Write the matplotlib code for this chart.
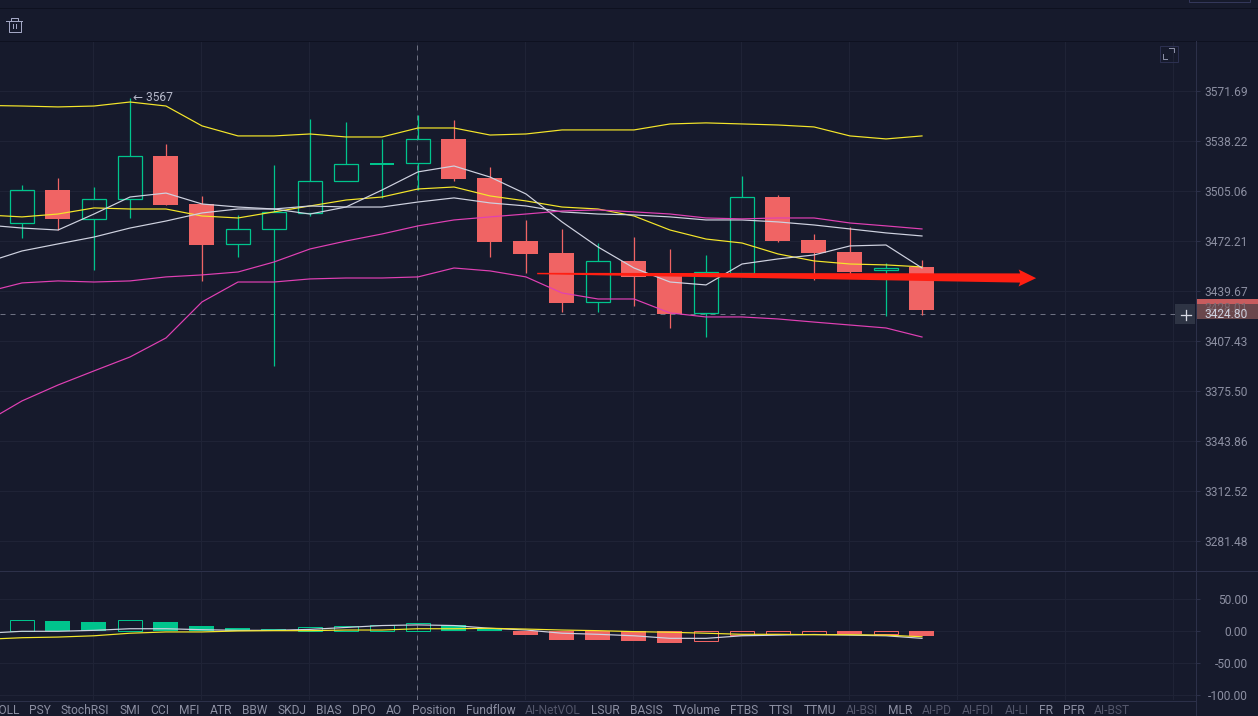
import numpy as np
import matplotlib
matplotlib.use("Agg")
import matplotlib.pyplot as plt
from matplotlib.patches import Rectangle, Polygon
from matplotlib.ticker import FixedLocator, FixedFormatter, NullLocator
from matplotlib.transforms import IdentityTransform

# ---------- data ----------
opens = [3484.0,3505.7,3486.7,3499.8,3528.3,3496.5,3470.3,3480.1,3490.6,3511.7,3522.6,3523.6,3539.6,3513.7,3472.2,3464.4,3432.6,3459.2,3450.7,3425.5,3451.4,3501.1,3472.9,3465.05,3453.3,3455.3]
closes = [3505.7,3486.7,3499.8,3528.3,3495.9,3469.6,3480.1,3491.3,3511.7,3522.9,3522.9,3539.6,3513.0,3471.6,3463.75,3431.9,3459.2,3448.8,3424.8,3452.0,3501.1,3472.2,3464.4,3452.0,3454.6,3427.4]
highs = [3509.0,3513.7,3507.7,3567.0,3536.2,3501.8,3489.3,3522.3,3553.0,3550.9,3539.6,3555.6,3552.3,3521.0,3486.0,3480.1,3470.9,3474.8,3467.0,3463.1,3515.0,3502.4,3476.8,3481.4,3457.9,3459.8]
lows = [3474.2,3479.4,3453.3,3487.3,3495.9,3446.2,3461.8,3391.5,3488.6,3511.7,3500.5,3505.7,3511.7,3461.8,3451.4,3426.1,3426.1,3430.0,3415.8,3410.0,3450.1,3471.6,3446.8,3450.7,3423.5,3424.2]

boll_upper = [3562.0,3561.6,3561.0,3561.6,3564.3,3561.6,3548.3,3541.6,3541.6,3542.9,3540.9,3540.9,3546.9,3546.9,3542.2,3542.9,3545.6,3545.6,3545.6,3549.6,3550.3,3549.6,3548.9,3547.6,3541.6,3539.6,3541.6]
ma_yellow = [3489.3,3488.0,3489.9,3493.9,3493.2,3493.2,3488.6,3487.3,3491.3,3495.2,3499.1,3501.1,3506.4,3507.7,3501.8,3498.5,3494.5,3493.2,3488.6,3479.4,3473.5,3470.9,3463.75,3459.2,3457.2,3456.6,3455.3]
ma_white_short = [3482.7,3480.7,3479.4,3489.9,3501.1,3503.7,3496.5,3494.5,3493.2,3489.9,3494.5,3505.7,3517.7,3521.6,3514.3,3503.1,3484.7,3468.3,3454.6,3445.5,3443.6,3457.2,3460.5,3463.1,3469.0,3469.6,3454.6]
ma_white_long = [3458.2,3465.7,3470.3,3474.8,3480.7,3485.3,3490.6,3493.2,3493.2,3495.2,3494.5,3494.5,3497.8,3500.5,3497.2,3495.2,3491.3,3489.9,3489.3,3488.0,3486.0,3486.0,3484.7,3482.7,3480.1,3477.5,3475.5]
ma_magenta = [3439.0,3444.9,3446.2,3445.5,3446.2,3448.8,3450.1,3452.0,3458.5,3467.0,3472.2,3476.8,3482.1,3486.0,3488.0,3489.9,3491.9,3492.6,3491.3,3489.9,3487.3,3486.7,3487.3,3487.3,3484.0,3482.1,3480.1]
boll_lower = [3355.9,3369.2,3379.3,3388.3,3397.2,3409.4,3432.6,3445.5,3445.5,3447.5,3448.1,3448.1,3448.8,3454.6,3452.7,3448.8,3438.4,3434.5,3434.5,3425.5,3422.9,3422.9,3421.6,3419.6,3417.7,3415.8,3410.0]

macd_hist = [17,16,14.5,17,14.5,8,5,3,6,8,9.5,12.5,9.5,4,-5.5,-13,-13,-14.7,-18,-14.7,-6,-3.8,-3.6,-3.9,-3.7,-7]
macd_prev = 12
dif = [-3,0,0,1.5,4,4,2.5,1.5,1.5,3,6,9,10,9,4.7,2,-3,-4.7,-7,-11,-11,-7,-6,-5,-6,-7,-11]
dea = [-12.5,-10,-9,-7,-3,-1,-1,0.5,1,1,2,2,4,4,4.7,3.5,2,1,-0.5,-1.5,-3,-4.7,-4.7,-5.3,-5.3,-6,-8.5]

price_ticks = [3571.69,3538.22,3505.06,3472.21,3439.67,3407.43,3375.50,3343.86,3312.52,3281.48]
macd_ticks = [50,0,-50,-100]
macd_labels = ["50.00","0.00","-50.00","-100.00"]
tabs = ["PSY","StochRSI","SMI","CCI","MFI","ATR","BBW","SKDJ","BIAS","DPO","AO","Position","Fundflow","AI-NetVOL","LSUR","BASIS","TVolume","FTBS","TTSI","TTMU","AI-BSI","MLR","AI-PD","AI-FDI","AI-LI","FR","PFR","AI-BST"]
peak_price = 3567
last_price = 3428.01
cross_price = 3424.80
cross_index = 11
arrow_start = (14.31, 3451.0)
arrow_end = (28.17, 3448.0)

# ---------- style ----------
BG = "#161a2c"; GRID = "#1f2336"; AXIS = "#2c3049"; TXT = "#8c8fa2"; DIM = "#54576b"
GREEN = "#00c48c"; RED = "#f06464"; YEL = "#f5e62a"; WHT = "#cfd2e0"; MAG = "#e040b4"
PX = 0.72  # one pixel in points
FS = 8.64
plt.rcParams['font.family'] = ['Roboto', 'DejaVu Sans']
W, H = 1258, 716
fig = plt.figure(figsize=(W/100, H/100), dpi=100, facecolor=BG)

def axpx(l, t, r, b):
    return fig.add_axes([l/W, 1-b/H, (r-l)/W, (b-t)/H], facecolor=BG)

ax = axpx(0, 41, 1195, 570)
ax2 = axpx(0, 571, 1195, 700)
ov = fig.add_axes([0, 0, 1, 1], facecolor="none", zorder=20)
ov.set_xlim(0, W); ov.set_ylim(H, 0); ov.axis("off")

STEP = 36.0
xlim = (-22/STEP, (1195-22)/STEP)
k = np.log(3571.69/3281.48)/450
ax.set_yscale("log")
ax.set_ylim(3571.69*np.exp(-k*(570-91)), 3571.69*np.exp(k*(91-41)))
ax.set_xlim(xlim)
ax2.set_xlim(xlim)
ax2.set_ylim((631.3-700)/0.64, (631.3-571)/0.64)

idx = np.arange(len(opens))
line_idx = np.arange(-1, len(opens))
grid_x = np.arange(2, 33, 3) - 1/STEP

for a in (ax, ax2):
    for s in a.spines.values():
        s.set_visible(False)
    a.set_axisbelow(True)
    a.xaxis.set_major_locator(NullLocator()); a.xaxis.set_minor_locator(NullLocator())
    for gx in grid_x:
        a.axvline(gx, color=GRID, lw=PX*1.1, zorder=0)
    a.yaxis.tick_right()
    a.tick_params(axis="y", which="major", length=3.8, width=PX, color=AXIS, labelcolor=TXT,
                  labelsize=FS, pad=34.3)
    a.tick_params(axis="y", which="minor", length=0)
    a.axvline(cross_index-1/STEP, color="#6d7081", lw=PX, dashes=(5, 5), zorder=1.5)

ax.yaxis.set_major_locator(FixedLocator(price_ticks))
ax.yaxis.set_minor_locator(NullLocator())
ax.yaxis.set_major_formatter(FixedFormatter([f"{v:.2f}" for v in price_ticks]))
ax2.yaxis.set_major_locator(FixedLocator(macd_ticks))
ax2.yaxis.set_major_formatter(FixedFormatter(macd_labels))
for a in (ax, ax2):
    for l in a.get_yticklabels():
        l.set_ha("right")
for v in price_ticks:
    ax.axhline(v, color=GRID, lw=PX*1.1, zorder=0)
for v in macd_ticks:
    ax2.axhline(v, color=GRID, lw=PX*1.1, zorder=0)
ax.axhline(cross_price, xmax=1175/1195, color="#6d7081", lw=PX, dashes=(5, 5), zorder=1.5)

BW = 24/STEP
CW = PX*1.25
for i, o, c, h, l in zip(idx, opens, closes, highs, lows):
    top, bot = max(o, c), min(o, c)
    if c >= o:
        ax.vlines(i, top, h, color=GREEN, lw=CW, zorder=3)
        ax.vlines(i, l, bot, color=GREEN, lw=CW, zorder=3)
        if top-bot < 1:
            ax.bar(i, top-bot, BW, bottom=bot, facecolor=GREEN, edgecolor=GREEN, lw=PX*2, zorder=3)
        else:
            ax.bar(i, top-bot, BW, bottom=bot, facecolor="none", edgecolor=GREEN, lw=CW, zorder=3)
    else:
        ax.vlines(i, l, h, color=RED, lw=CW, zorder=3)
        ax.bar(i, top-bot, BW+1/STEP, bottom=bot, facecolor=RED, edgecolor="none", zorder=3)

for series, col in [(boll_upper, YEL), (ma_yellow, YEL), (ma_white_short, WHT),
                    (ma_white_long, WHT), (ma_magenta, MAG), (boll_lower, MAG)]:
    ax.plot(line_idx[:len(series)], series, color=col, lw=PX*1.2, zorder=4, solid_joinstyle="round")

ax.annotate(f"← {peak_price}", xy=(3, peak_price), xytext=(2.2, 0), textcoords="offset points",
            color="#b6b9ca", fontsize=FS, va="center", ha="left", zorder=6)

prev = macd_prev
for i, v in zip(idx, macd_hist):
    col = GREEN if v >= 0 else RED
    if v > prev:
        ax2.bar(i, v, BW, facecolor="none", edgecolor=col, lw=PX, zorder=3)
    else:
        ax2.bar(i, v, BW+1/STEP, facecolor=col, edgecolor="none", zorder=3)
    prev = v
ax2.plot(line_idx, dif, color=WHT, lw=PX*1.2, zorder=4)
ax2.plot(line_idx, dea, color=YEL, lw=PX*1.2, zorder=4)

# ---------- red trend arrow (annotation) ----------
def to_px(a, pt):
    x, y = a.transData.transform(pt)
    return np.array([x, y])
p0, p1 = to_px(ax, arrow_start), to_px(ax, arrow_end)
u = (p1-p0)/np.linalg.norm(p1-p0)
n = np.array([-u[1], u[0]])
hb = p1-u*16
arrow = [p0+n*0.7, hb+n*4.6, hb+n*8.5-u*1.5, p1, hb-n*8.5-u*1.5, hb-n*4.6, p0-n*0.7]
ax.add_patch(Polygon(arrow, closed=True, transform=IdentityTransform(), facecolor="#ff1f12",
                     edgecolor="none", zorder=7, clip_on=False))

# ---------- chrome ----------
ov.plot([0, W], [7.5, 7.5], color="#0e1120", lw=PX)
ov.plot([0, W], [40.5, 40.5], color="#0e1120", lw=PX)
ov.plot([1195.5, 1195.5], [41, H], color=AXIS, lw=PX)
ov.plot([0, W], [570.5, 570.5], color=AXIS, lw=PX)
ov.plot([0, 1195], [700.5, 700.5], color=AXIS, lw=PX)
ov.add_patch(Rectangle((1188.5, -3), 61, 4.5, fc="none", ec="#33375a", lw=PX))
# trash icon
TR = "#a3a7c4"
ov.plot([6, 22], [20.5, 20.5], color=TR, lw=PX)
ov.plot([8.5, 8.5, 20.5, 20.5], [20.5, 32, 32, 20.5], color=TR, lw=PX)
ov.plot([10.5, 10.5, 17.5, 17.5], [20.5, 17.5, 17.5, 20.5], color=TR, lw=PX)
ov.plot([13, 13], [24, 28], color=TR, lw=PX)
ov.plot([15.5, 15.5], [24, 28], color=TR, lw=PX)
# fullscreen icon
ov.add_patch(Rectangle((1159.5, 45.5), 18, 16.5, fc="none", ec="#2c3050", lw=PX))
ov.plot([1169, 1174, 1174], [47.5, 47.5, 52], color="#8a8ea5", lw=PX)
ov.plot([1162.5, 1162.5, 1167], [54, 58.5, 58.5], color="#8a8ea5", lw=PX)
# price labels
ov.add_patch(Rectangle((1196, 299), 62, 5, fc="#c85c5e", ec="none"))
ov.add_patch(Rectangle((1196, 304), 62, 15, fc="#6a474c", ec="none"))
ov.text(1248, 308.5, f"{last_price:.2f}", color="#7d6a72", fontsize=FS, va="center", ha="right")
ov.add_patch(Rectangle((1175, 304), 20, 20, fc="#2e3444", ec="none"))
ov.plot([1180.5, 1190.5], [314.5, 314.5], color="#d8dae4", lw=PX*1.3)
ov.plot([1185.5, 1185.5], [309.5, 319.5], color="#d8dae4", lw=PX*1.3)
ov.text(1248, 314.5, f"{cross_price:.2f}", color="#cfd2e0", fontsize=FS, va="center", ha="right")

# tabs along the bottom, laid out one after another
GAP = 10.0
r = fig.canvas.get_renderer()
ov.text(19, 710.5, "BOLL", color=TXT, fontsize=FS, va="center", ha="right")
cur = 19 + GAP
for name in tabs:
    c = DIM if name.startswith("AI-") else TXT
    t = ov.text(cur, 710.5, name, color=c, fontsize=FS, va="center", ha="left")
    cur += t.get_window_extent(r).width + GAP

fig.savefig("out.png", dpi=100, facecolor=BG)
